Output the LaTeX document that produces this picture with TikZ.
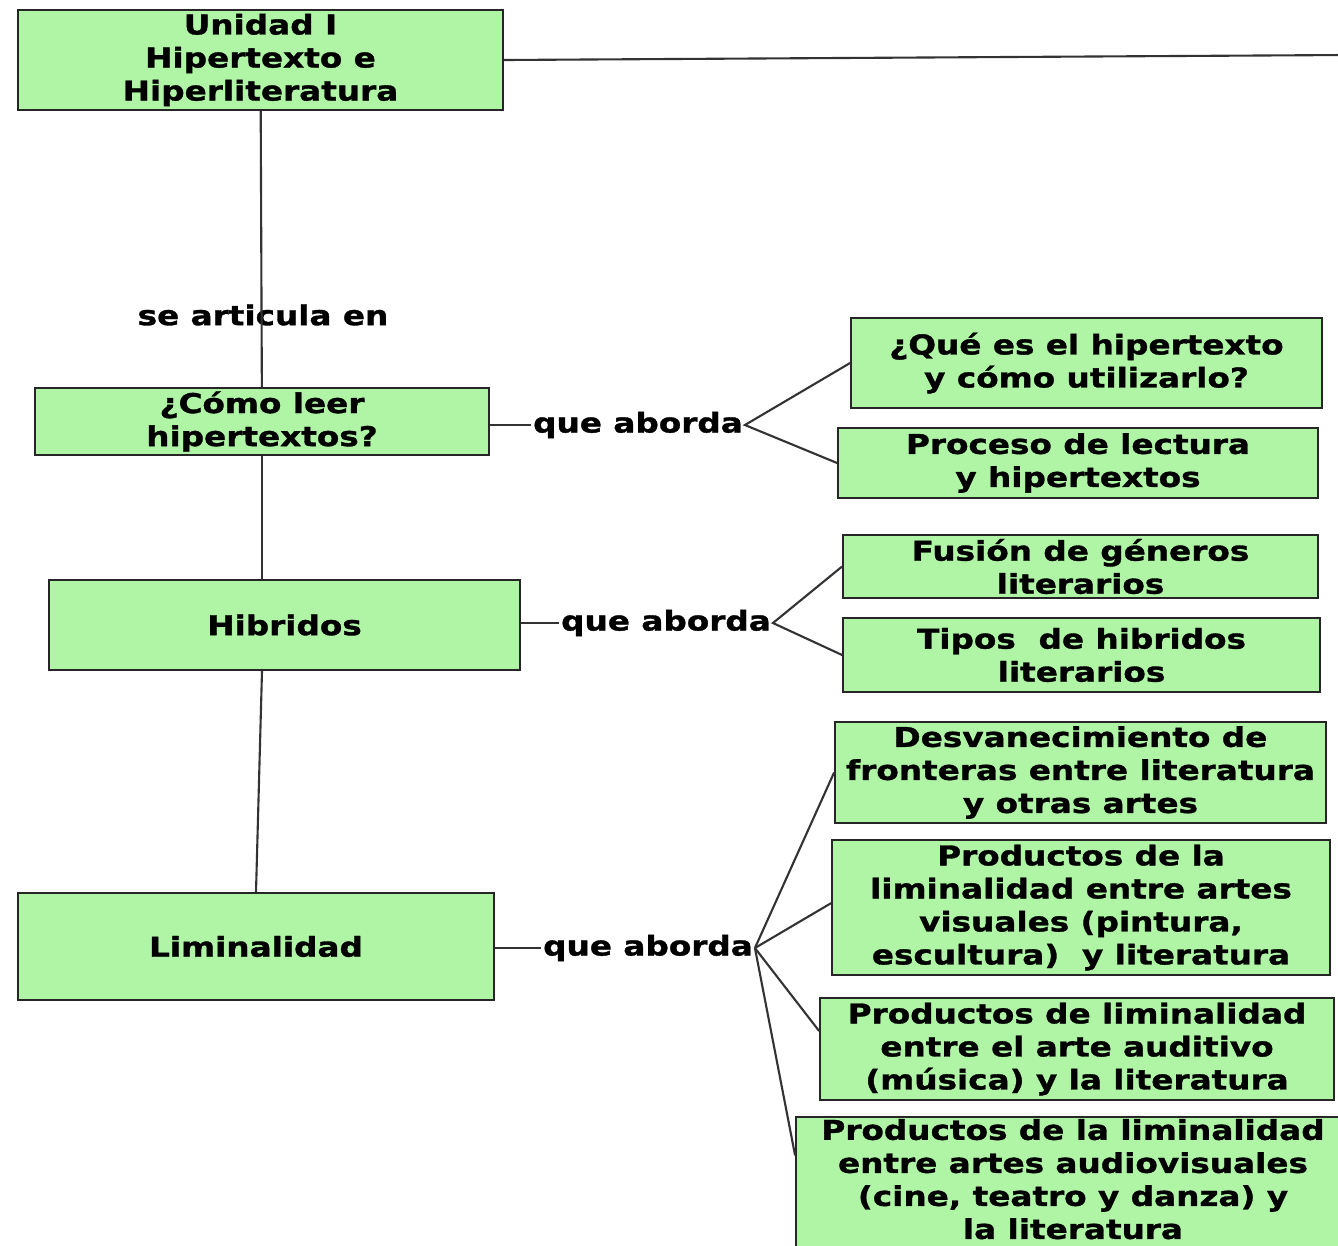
\documentclass[tikz,border=0pt]{standalone}
\usepackage{fontspec}
\newfontfamily\mapfont{DejaVu Sans}[FakeStretch=1.2,BoldFeatures={FakeBold=1.2}]
\definecolor{verde}{RGB}{176,245,166}

\begin{document}
\begin{tikzpicture}[x=0.02cm,y=-0.02cm,
  txt/.style={font=\mapfont\bfseries\fontsize{15.5}{18.8}\selectfont,align=center,inner sep=1pt},
  caja/.style={txt,draw=black!85,fill=verde,line width=1.1pt},
  enlace/.style={draw=black!80,line width=1.2pt}]
\useasboundingbox (0,0) rectangle (1338,1245);
\begin{scope}
\clip (0,0) rectangle (1338,1245);
\node[caja,minimum width=9.7cm,minimum height=2cm] (unidad) at (260.5,60) {Unidad I\\Hipertexto e\\Hiperliteratura};
\node[caja,minimum width=9.08cm,minimum height=1.34cm] (comoleer) at (262,421.5) {¿Cómo leer\\hipertextos?};
\node[caja,minimum width=9.42cm,minimum height=1.8cm] (hibridos) at (284.5,625) {Hibridos};
\node[caja,minimum width=9.52cm,minimum height=2.14cm] (liminal) at (256,946.5) {Liminalidad};
\node[txt] (art) at (263,315) {se articula en};
\node[txt] (qa1) at (638,425) {que aborda};
\node[txt] (qa2) at (666,623) {que aborda};
\node[txt] (qa3) at (648,948) {que aborda};
\node[caja,minimum width=9.42cm,minimum height=1.8cm] (hiper) at (1086.5,363) {¿Qué es el hipertexto\\y cómo utilizarlo?};
\node[caja,minimum width=9.6cm,minimum height=1.4cm] (proceso) at (1078,463) {Proceso de lectura\\y hipertextos};
\node[caja,minimum width=9.5cm,minimum height=1.26cm] (fusion) at (1080.5,566.5) {Fusión de géneros\\literarios};
\node[caja,minimum width=9.54cm,minimum height=1.48cm] (tipos) at (1081.5,655) {Tipos\ \ de hibridos\\literarios};
\node[caja,minimum width=9.82cm,minimum height=2.02cm] (desv) at (1080.5,772.5) {Desvanecimiento de\\fronteras entre literatura\\y otras artes};
\node[caja,minimum width=9.96cm,minimum height=2.7cm] (visual) at (1081,907.5) {Productos de la\\liminalidad entre artes\\visuales (pintura,\\escultura)\ \ y literatura};
\node[caja,minimum width=10.28cm,minimum height=2.04cm] (auditivo) at (1077,1049) {Productos de liminalidad\\entre el arte auditivo\\(música) y la literatura};
\node[caja,minimum width=11.08cm,minimum height=2.9cm,text depth=0.42cm] (audiovis) at (1073,1189.5) {Productos de la liminalidad\\entre artes audiovisuales\\(cine, teatro y danza) y\\la literatura};
\coordinate (fin) at (1345,55);
\draw[enlace] (unidad.east) -- (fin);
\draw[enlace] (unidad) -- (comoleer);
\draw[enlace] (comoleer.south) -- (comoleer.south |- hibridos.north);
\draw[enlace] (comoleer.south |- hibridos.south) -- (liminal.north);
\draw[enlace] (qa1.west) -- (qa1.west -| comoleer.east);
\draw[enlace] (qa2.west) -- (qa2.west -| hibridos.east);
\draw[enlace] (qa3.west) -- (qa3.west -| liminal.east);
\draw[enlace] (hiper.west) -- (qa1.east) -- (proceso.west);
\draw[enlace] (fusion.west) -- (qa2.east) -- (tipos.west);
\draw[enlace] (qa3.east) -- (desv.west);
\draw[enlace] (qa3.east) -- (visual.179);
\draw[enlace] (qa3.east) -- (auditivo.176);
\draw[enlace] (qa3.east) -- (audiovis.173);
\end{scope}
\end{tikzpicture}
\end{document}
